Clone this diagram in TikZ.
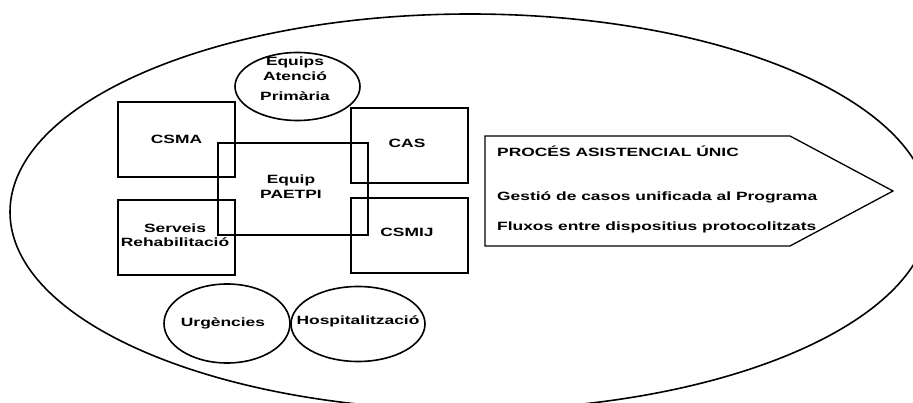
\documentclass[tikz,border=0pt]{standalone}
\usepackage{fontspec}
\newfontfamily\lab[FakeStretch=1.45]{Liberation Sans}
\usetikzlibrary{shapes.geometric}
\begin{document}
\begin{tikzpicture}[x=1pt,y=-1pt,
  every node/.style={font=\lab\bfseries\fontsize{12}{14.4}\selectfont},
  box/.style={draw,line width=1.3pt,rectangle,inner sep=0pt,align=center},
  oval/.style={draw,line width=1.6pt,ellipse,inner sep=0pt,align=center},
  txt/.style={inner sep=0pt,align=center},
  ltxt/.style={inner sep=0pt,anchor=base west}]
\useasboundingbox (0,0) rectangle (913,403);
\clip (0,0) rectangle (913,403);
% outer ellipse
\node[draw,line width=1.6pt,ellipse,inner sep=0pt,minimum width=920pt,minimum height=396pt] (outer) at (470,212) {};
% boxes
\node[box,minimum width=117pt,minimum height=75pt] (csma) at (176.5,139.5) {CSMA};
\node[box,minimum width=117pt,minimum height=75pt] (serveis) at (176.5,237.5) {};
\node[txt] (servtext) at (175,235) {Serveis\\Rehabilitació};
\node[box,minimum width=117pt,minimum height=75pt] (cas) at (409.5,145.5) {};
\node[txt] (castext) at (407,143) {CAS};
\node[box,minimum width=117pt,minimum height=75pt] (csmij) at (409.5,235.5) {};
\node[txt] (csmijtext) at (407,232) {CSMIJ};
\node[box,minimum width=150pt,minimum height=92pt] (paetpi) at (293,189) {};
\node[txt] (paetpitext) at (291,186.5) {Equip\\PAETPI};
% ovals
\node[oval,minimum width=125pt,minimum height=68pt] (eap) at (297.5,86.5) {};
\node[txt] (eaptext) at (295,79) {Equips\\Atenció\\[6.5pt]Primària};
\node[oval,minimum width=126pt,minimum height=79pt] (urg) at (227,323.5) {};
\node[txt] (urgtext) at (223,323) {Urgències};
\node[oval,minimum width=134pt,minimum height=75pt] (hosp) at (358,324) {};
\node[txt] (hosptext) at (358,321) {Hospitalització};
% process arrow
\coordinate (p1) at (485,136);
\coordinate (p2) at (790,136);
\coordinate (p3) at (893,191);
\coordinate (p4) at (790,246);
\coordinate (p5) at (485,246);
\draw[line width=1.3pt,line join=miter] (p1) -- (p2) -- (p3) -- (p4) -- (p5) -- cycle;
\node[ltxt] (t1) at (497,156.5) {PROCÉS ASISTENCIAL ÚNIC};
\node[ltxt] (t2) at (497,201) {Gestió de casos unificada al Programa};
\node[ltxt] (t3) at (497,230.5) {Fluxos entre dispositius protocolitzats};
\end{tikzpicture}
\end{document}
